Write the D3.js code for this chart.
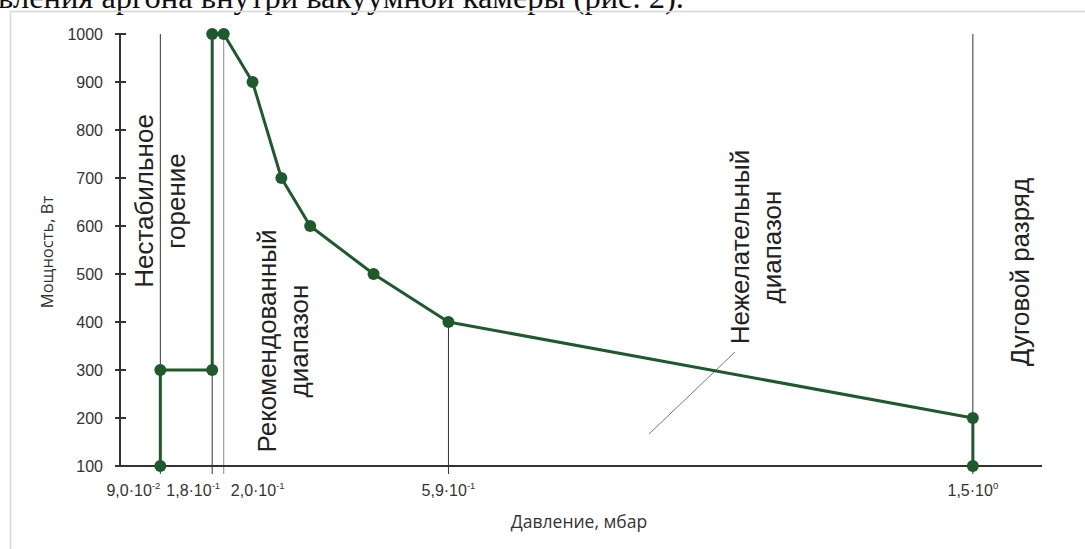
<!DOCTYPE html>
<html>
<head>
<meta charset="utf-8">
<script src="https://cdn.jsdelivr.net/npm/d3@7"></script>
<style>
  body { margin: 0; background: #fff; }
  svg { display: block; }
</style>
</head>
<body>
<div id="chart"></div>
<script>
// pressure (mbar) and power (W) along the curve
const pressure = [0.09, 0.09, 0.18, 0.18, 0.2, 0.25, 0.30, 0.35, 0.46, 0.59, 1.5, 1.5];
const power = [100, 300, 300, 1000, 1000, 900, 700, 600, 500, 400, 200, 100];

const yTicks = [100, 200, 300, 400, 500, 600, 700, 800, 900, 1000];
const xTicks = [0.09, 0.18, 0.2, 0.59, 1.5];
const xTickMantissa = ["9,0·10", "1,8·10", "2,0·10", "5,9·10", "1,5·10"];
const xTickExponent = ["-2", "-1", "-1", "-1", "0"];

// vertical guide lines: [pressure, top power]
const guides = [[0.09, 1000], [0.18, 1000], [0.2, 1000], [0.59, 400], [1.5, 1000]];

const regionLines = [
    ["Нестабильное", "горение"],
    ["Рекомендованный", "диапазон"],
    ["Нежелательный", "диапазон"],
    ["Дуговой разряд"]
];

const width = 1085, height = 549;
const green = "#1e5a2c";

const svg = d3.select("#chart").append("svg")
    .attr("width", width)
    .attr("height", height);

// page fragment above the figure
svg.append("text")
    .attr("x", -2)
    .attr("y", 8)
    .style("font-family", "'Liberation Serif', 'Times New Roman', serif")
    .style("font-size", "32.5px")
    .style("fill", "#111")
    .text("вления аргона внутри вакуумной камеры (рис. 2).");

svg.append("path")
    .attr("d", `M10.5,${height} V11.5 H${width}`)
    .attr("fill", "none")
    .attr("stroke", "#d8d8d8")
    .attr("stroke-width", 1.5);

const x = d3.scaleLinear().domain([0.02, 1.62]).range([120, 1042]);
const y = d3.scaleLinear().domain([100, 1000]).range([466, 34]);

// guides
svg.selectAll(".guide")
    .data(guides)
    .enter()
    .append("line")
    .attr("class", "guide")
    .attr("x1", d => x(d[0]))
    .attr("x2", d => x(d[0]))
    .attr("y1", d => y(d[1]))
    .attr("y2", y(100) + 8)
    .attr("stroke", (d, i) => i === 2 ? "#8a8a8a" : "#333")
    .attr("stroke-width", 1);

// axes
svg.append("line")
    .attr("x1", 115).attr("x2", 1042)
    .attr("y1", y(100)).attr("y2", y(100))
    .attr("stroke", "#333").attr("stroke-width", 2);

svg.append("line")
    .attr("x1", x(0.02)).attr("x2", x(0.02))
    .attr("y1", y(1000)).attr("y2", y(100))
    .attr("stroke", "#333").attr("stroke-width", 2);

svg.selectAll(".ytick")
    .data(yTicks)
    .enter()
    .append("line")
    .attr("class", "ytick")
    .attr("x1", 115).attr("x2", 126)
    .attr("y1", d => y(d)).attr("y2", d => y(d))
    .attr("stroke", "#333").attr("stroke-width", 2);

svg.selectAll(".ylabel")
    .data(yTicks)
    .enter()
    .append("text")
    .attr("class", "ylabel")
    .attr("x", 103)
    .attr("y", d => y(d))
    .attr("dy", "0.36em")
    .attr("text-anchor", "end")
    .style("font-family", "'Liberation Sans', Arial, sans-serif")
    .style("font-size", "16px")
    .style("fill", "#333")
    .text(d => d);

// x tick labels are nudged apart so they do not collide
const xLabelShift = [-27, -19, 34, 0, 0];
const xLabels = svg.selectAll(".xlabel")
    .data(xTicks)
    .enter()
    .append("text")
    .attr("class", "xlabel")
    .attr("x", (d, i) => x(d) + xLabelShift[i])
    .attr("y", 496)
    .attr("text-anchor", "middle")
    .style("font-family", "'Liberation Sans', Arial, sans-serif")
    .style("font-size", "16px")
    .style("fill", "#333");

xLabels.append("tspan").text((d, i) => xTickMantissa[i]);
xLabels.append("tspan")
    .attr("dy", -7)
    .style("font-size", "9.5px")
    .text((d, i) => xTickExponent[i]);

svg.append("text")
    .attr("x", 579)
    .attr("y", 528)
    .attr("text-anchor", "middle")
    .style("font-family", "'Open Sans', sans-serif")
    .style("font-size", "17.5px")
    .style("fill", "#333")
    .text("Давление, мбар");

svg.append("text")
    .attr("transform", "translate(53, 252) rotate(-90)")
    .attr("text-anchor", "middle")
    .style("font-family", "'Open Sans', sans-serif")
    .style("font-size", "16.5px")
    .style("fill", "#333")
    .text("Мощность, Вт");

// leader line to the undesired range label
svg.append("line")
    .attr("x1", 649).attr("y1", 434)
    .attr("x2", 735).attr("y2", 352)
    .attr("stroke", "#777").attr("stroke-width", 1);

// data line
const pts = pressure.map((p, i) => [p, power[i]]);
const line = d3.line().x(d => x(d[0])).y(d => y(d[1]));

svg.append("path")
    .attr("d", line(pts))
    .attr("fill", "none")
    .attr("stroke", green)
    .attr("stroke-width", 3)
    .attr("stroke-linejoin", "round");

svg.selectAll(".dot")
    .data(pts)
    .enter()
    .append("circle")
    .attr("class", "dot")
    .attr("cx", d => x(d[0]))
    .attr("cy", d => y(d[1]))
    .attr("r", 6)
    .attr("fill", green);

// region labels, rotated
const regionPos = [[160, 201], [283, 341], [756, 247], [1020, 272]];
regionLines.forEach((lines, i) => {
    const t = svg.append("text")
        .attr("transform", `translate(${regionPos[i][0]}, ${regionPos[i][1]}) rotate(-90)`)
        .attr("text-anchor", "middle")
        .style("font-family", "'Liberation Sans', Arial, sans-serif")
        .style("font-size", "26px")
        .style("fill", "#222");
    const n = lines.length;
    lines.forEach((s, j) => {
        t.append("tspan")
            .attr("x", 0)
            .attr("y", (j - (n - 1) / 2) * 32)
            .attr("dy", "0.35em")
            .text(s);
    });
});
</script>
</body>
</html>
